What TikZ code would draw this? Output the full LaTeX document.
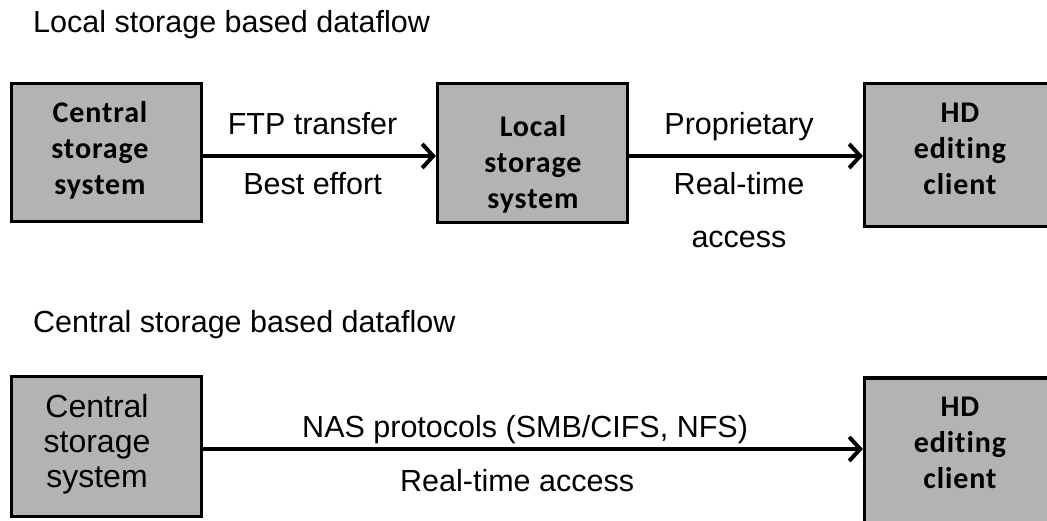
\documentclass[tikz,border=0pt]{standalone}
\usepackage{fontspec}
\setmainfont{Liberation Sans}
\newfontfamily\boxfont[Ligatures=NoCommon, LetterSpace=3]{Carlito}
\usetikzlibrary{arrows.meta}
\definecolor{boxgray}{RGB}{179,179,179}
\tikzset{
  x=1pt, y=-1pt,
  stage/.style={draw=black, fill=boxgray, line width=3.2pt, inner sep=0pt},
  boldtext/.style={font=\boxfont\bfseries\fontsize{30}{36}\selectfont, align=center, inner sep=0pt},
  plaintext/.style={font=\fontsize{32}{35}\selectfont, align=center, inner sep=0pt},
  flowlabel/.style={font=\fontsize{30.5}{36}\selectfont, anchor=base, inner sep=0pt},
  heading/.style={font=\fontsize{30.5}{36}\selectfont, anchor=base west, inner sep=0pt},
  flow/.style={line width=4pt, -{Straight Barb[length=11pt,width=24pt,line width=4pt]}}
}
\begin{document}
\begin{tikzpicture}
\useasboundingbox (0,0) rectangle (1047,521);
\clip (0,0) rectangle (1047,521);

% --- local storage based dataflow ---
\node[heading] (h1) at (33,33) {Local storage based dataflow};

\node[stage, minimum width=190pt, minimum height=138pt] (cs1) at (106.5,152.5) {};
\node[boldtext] (cs1t) at (100,150) {Central\\storage\\system};

\node[stage, minimum width=190pt, minimum height=139pt] (ls) at (532.5,153) {};
\node[boldtext] (lst) at (533,164) {Local\\storage\\system};

\node[stage, minimum width=189pt, minimum height=143pt] (hd1) at (959,155) {};
\node[boldtext] (hd1t) at (960,149) {HD\\editing\\client};

\draw[flow] ([yshift=-3.5pt]cs1.east) -- ([yshift=-3pt]ls.west)
  node[flowlabel, pos=0.47, yshift=21pt] (l1a) {FTP transfer}
  node[flowlabel, pos=0.47, yshift=-39pt] (l1b) {Best effort};

\draw[flow] ([yshift=-3pt]ls.west -| ls.east) -- ([yshift=-1pt]hd1.west)
  node[flowlabel, pos=0.47, yshift=21pt] (l2a) {Proprietary}
  node[flowlabel, pos=0.47, yshift=-39pt] (l2b) {Real-time}
  node[flowlabel, pos=0.47, yshift=-92pt] (l2c) {access};

% --- central storage based dataflow ---
\node[heading] (h2) at (33,333) {Central storage based dataflow};

\node[stage, minimum width=190pt, minimum height=140pt] (cs2) at (106.5,446.5) {};
\node[plaintext] (cs2t) at (97,444) {Central\\storage\\system};

\node[stage, minimum width=189pt, minimum height=162pt] (hd2) at (959,459) {};
\node[boldtext] (hd2t) at (960,443) {HD\\editing\\client};

\draw[flow] ([yshift=-2.5pt]cs2.east) -- (hd2.west |- 0,449)
  node[flowlabel, pos=0.488, yshift=12pt] (l3a) {NAS protocols (SMB/CIFS, NFS)}
  node[flowlabel, pos=0.476, yshift=-42pt] (l3b) {Real-time access};
\end{tikzpicture}
\end{document}
